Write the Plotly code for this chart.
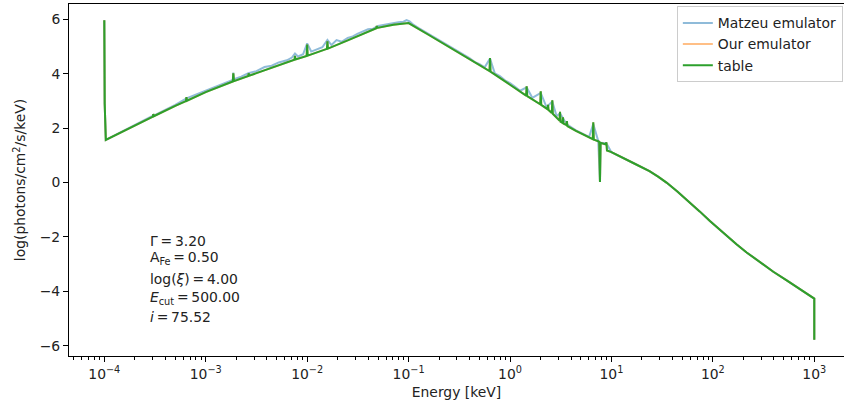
import plotly.graph_objects as go

# ---------------- data ----------------
# log10(Energy / keV) and log(photons/cm^2/s/keV) for the "table" spectrum
log_e_table = [
    -4.000, -3.996, -3.985,
    -3.70, -3.52, -3.517, -3.512, -3.30, -3.195, -3.19, -3.185, -3.00,
    -2.80, -2.733, -2.728, -2.722, -2.58, -2.577, -2.572, -2.40, -2.20,
    -2.125, -2.12, -2.115, -2.005, -2.0, -1.995,
    -1.805, -1.80, -1.795, -1.60, -1.413, -1.318, -1.314, -1.309, -1.15, -1.00,
    -0.80, -0.60, -0.40, -0.202, -0.197, -0.192, 0.0,
    0.159, 0.164, 0.170, 0.298, 0.303, 0.308, 0.370, 0.375, 0.380,
    0.412, 0.417, 0.422, 0.488, 0.493, 0.498, 0.517, 0.522, 0.527,
    0.556, 0.561, 0.566, 0.65, 0.78, 0.816, 0.821, 0.826,
    0.870, 0.880, 0.887, 0.893, 0.945, 0.950, 0.956, 1.00,
    1.215, 1.30, 1.375, 1.460, 1.543, 1.65, 1.774, 1.87, 1.971, 2.05, 2.136,
    2.233, 2.333, 2.465, 2.596, 2.728, 2.859, 3.000, 3.000,
]
table_vals = [
    5.97, 2.90, 1.57,
    2.10, 2.43, 2.52, 2.44, 2.82, 3.00, 3.14, 3.01, 3.33,
    3.62, 3.72, 4.02, 3.73, 3.92, 4.02, 3.93, 4.16, 4.42,
    4.52, 4.66, 4.53, 4.66, 5.08, 4.67,
    4.92, 5.20, 4.93, 5.23, 5.54, 5.68, 5.76, 5.69, 5.81, 5.87,
    5.43, 4.98, 4.54, 4.10, 4.58, 4.08, 3.60,
    3.20, 3.54, 3.18, 2.88, 3.36, 2.86, 2.70, 2.86, 2.67,
    2.56, 3.03, 2.53, 2.28, 2.60, 2.24, 2.20, 2.40, 2.17,
    2.12, 2.26, 2.08, 1.90, 1.66, 1.60, 2.22, 1.58,
    1.52, 1.50, 0.02, 1.46, 1.40, 1.48, 1.18, 1.12,
    0.72, 0.57, 0.42, 0.22, 0.00, -0.33, -0.73, -1.06, -1.41, -1.68, -1.96,
    -2.27, -2.57, -2.94, -3.28, -3.60, -3.92, -4.27, -5.78,
]

# "Matzeu emulator" spectrum (slightly above the table, noisy)
log_e_matzeu = [
    -4.0, -3.996, -3.985, -3.70, -3.52, -3.517, -3.512, -3.30, -3.19, -3.0,
    -2.90, -2.80, -2.733, -2.728, -2.722, -2.65, -2.58, -2.50, -2.42, -2.35,
    -2.28, -2.20, -2.15, -2.12, -2.09, -2.04, -2.0, -1.96, -1.90, -1.85,
    -1.80, -1.76, -1.71, -1.66, -1.60, -1.55, -1.50, -1.45, -1.40, -1.35,
    -1.30, -1.25, -1.20, -1.15, -1.10, -1.05, -1.02, -0.99, -0.95, -0.90,
    -0.85, -0.80, -0.75, -0.70, -0.65, -0.60, -0.55, -0.50, -0.45, -0.40,
    -0.35, -0.30, -0.25, -0.197, -0.15, -0.10, -0.05, 0.0, 0.05, 0.10,
    0.164, 0.22, 0.303, 0.36, 0.417, 0.46, 0.493, 0.56, 0.65, 0.72,
    0.78, 0.821, 0.87, 0.887, 0.893, 0.95, 1.0,
    1.215, 1.30, 1.375, 1.460, 1.543, 1.65, 1.774, 1.87, 1.971, 2.05, 2.136,
    2.233, 2.333, 2.465, 2.596, 2.728, 2.859, 3.000, 3.000,
]
matzeu_vals = [
    5.97, 2.90, 1.57, 2.12, 2.46, 2.52, 2.46, 2.86, 3.10, 3.38,
    3.52, 3.68, 3.78, 4.05, 3.80, 3.90, 4.02, 4.10, 4.25, 4.30,
    4.42, 4.50, 4.60, 4.75, 4.64, 4.72, 5.12, 4.82, 4.90, 4.98,
    5.25, 5.06, 5.24, 5.18, 5.32, 5.38, 5.48, 5.55, 5.64, 5.66,
    5.76, 5.80, 5.84, 5.86, 5.90, 5.92, 5.98, 5.93, 5.80, 5.68,
    5.57, 5.47, 5.34, 5.25, 5.12, 5.02, 4.90, 4.80, 4.68, 4.58,
    4.44, 4.36, 4.24, 4.56, 4.02, 3.92, 3.76, 3.66, 3.52, 3.38,
    3.50, 3.12, 3.30, 2.78, 2.98, 2.44, 2.55, 2.14, 1.92, 1.80,
    1.68, 2.15, 1.53, 0.05, 1.46, 1.45, 1.12,
    0.72, 0.57, 0.42, 0.22, 0.00, -0.33, -0.73, -1.06, -1.41, -1.68, -1.96,
    -2.27, -2.57, -2.94, -3.28, -3.60, -3.92, -4.27, -5.78,
]

# "Our emulator" lies under the table curve (not visible in the picture)
log_e_ours = list(log_e_table)
ours_vals = list(table_vals)

x_tick_vals = [1e-4, 1e-3, 1e-2, 1e-1, 1e0, 1e1, 1e2, 1e3]
x_tick_text = ["10<sup>\u22124</sup>", "10<sup>\u22123</sup>", "10<sup>\u22122</sup>",
               "10<sup>\u22121</sup>", "10<sup>0</sup>", "10<sup>1</sup>",
               "10<sup>2</sup>", "10<sup>3</sup>"]
y_tick_vals = [-6, -4, -2, 0, 2, 4, 6]
y_tick_text = ["\u22126", "\u22124", "\u22122", "0", "2", "4", "6"]

param_lines = [
    "\u0393\u2009=\u20093.20",
    "A<sub>Fe</sub>\u2009=\u20090.50",
    "log(<i>\u03be</i>)\u2009=\u20094.00",
    "<i>E</i><sub>cut</sub>\u2009=\u2009500.00",
    "<i>i</i>\u2009=\u200975.52",
]

# ---------------- figure ----------------
FONT = "DejaVu Sans"
FS = 13.9

def to_e(logs):
    return [10 ** v for v in logs]

fig = go.Figure()
fig.add_trace(go.Scatter(x=to_e(log_e_matzeu), y=matzeu_vals, mode="lines",
                         name="Matzeu emulator",
                         line=dict(color="rgba(31,119,180,0.5)", width=2)))
fig.add_trace(go.Scatter(x=to_e(log_e_ours), y=ours_vals, mode="lines",
                         name="Our emulator",
                         line=dict(color="rgba(255,127,14,0.5)", width=2)))
fig.add_trace(go.Scatter(x=to_e(log_e_table), y=table_vals, mode="lines",
                         name="table",
                         line=dict(color="#2ca02c", width=2)))

ann_y = [0.328, 0.277, 0.219, 0.165, 0.111]
for txt, yy in zip(param_lines, ann_y):
    fig.add_annotation(x=0.102, y=yy, xref="paper", yref="paper",
                       text=txt, showarrow=False, xanchor="left", yanchor="middle",
                       font=dict(family=FONT, size=FS, color="#222"))

fig.update_layout(
    width=844, height=408,
    margin=dict(l=69, r=0, t=4, b=52),
    paper_bgcolor="white", plot_bgcolor="white",
    font=dict(family=FONT, size=FS, color="#222"),
    showlegend=True,
    legend=dict(x=0.9985, y=0.993, xanchor="right", yanchor="top",
                bgcolor="rgba(255,255,255,0.8)", bordercolor="#cccccc", borderwidth=1,
                font=dict(family=FONT, size=FS, color="#222"),
                tracegroupgap=0, itemwidth=30),
    xaxis=dict(type="log", range=[-4.348, 3.293],
               showline=True, linecolor="black", linewidth=1, mirror=True,
               ticks="outside", ticklen=5, tickwidth=1, tickcolor="black",
               tickvals=x_tick_vals, ticktext=x_tick_text,
               minor=dict(ticks="outside", ticklen=3, tickwidth=0.8, tickcolor="black",
                          dtick="D1", showgrid=False),
               showgrid=False, zeroline=False,
               title=dict(text="Energy [keV]", standoff=6,
                          font=dict(family=FONT, size=FS, color="#222"))),
    yaxis=dict(range=[-6.38, 6.57],
               showline=True, linecolor="black", linewidth=1, mirror=False,
               ticks="outside", ticklen=5, tickwidth=1, tickcolor="black",
               tickvals=y_tick_vals, ticktext=y_tick_text,
               showgrid=False, zeroline=False,
               title=dict(text="log(photons/cm<sup>2</sup>/s/keV)", standoff=10,
                          font=dict(family=FONT, size=FS, color="#222"))),
)

fig.write_html("out.html")
